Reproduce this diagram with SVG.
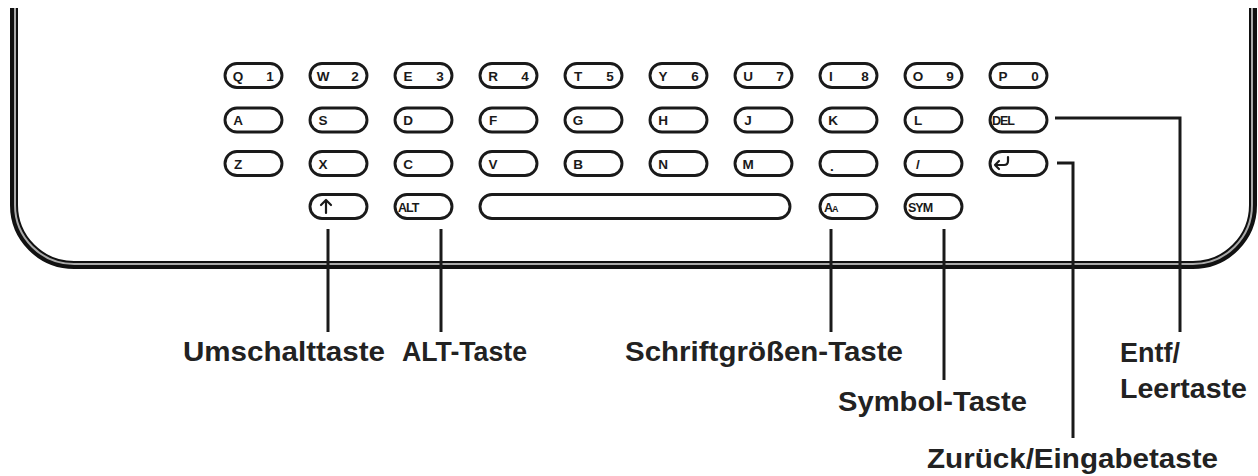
<svg xmlns="http://www.w3.org/2000/svg" width="1258" height="476" viewBox="0 0 1258 476">
<style>
.key{fill:#fff;stroke:#1a1a1a;stroke-width:2.9}
.kt{font-family:"Liberation Sans",Arial,sans-serif;font-weight:bold;font-size:13.5px;fill:#1a1a1a;text-anchor:middle}
.ks{font-family:"Liberation Sans",Arial,sans-serif;font-weight:bold;font-size:12.5px;fill:#1a1a1a;letter-spacing:-1px}
.icon{fill:none;stroke:#1a1a1a;stroke-width:2.2;stroke-linecap:round;stroke-linejoin:round}
.lbl{font-family:"Liberation Sans",Arial,sans-serif;font-weight:bold;font-size:28px;fill:#222}
.conn{fill:none;stroke:#1a1a1a;stroke-width:3;stroke-linejoin:miter}
</style>
<rect width="1258" height="476" fill="#fff"/>
<g id="frame">
<path d="M14,8 V205 A60,60 0 0 0 74,265 H1193 A60,60 0 0 0 1253,205 V8" fill="none" stroke="#111" stroke-width="8"/>
<path d="M15,8 V205 A59,59 0 0 0 74,264 H1193 A59,59 0 0 0 1252,205 V8" fill="none" stroke="#aaa" stroke-width="2"/>
</g>
<g id="row1">
<g id="key-q"><rect class="key" x="225" y="63.5" width="57" height="24" rx="12"/><text class="kt" x="238" y="80.5">Q</text><text class="kt" x="270" y="80.5">1</text></g>
<g id="key-w"><rect class="key" x="310" y="63.5" width="57" height="24" rx="12"/><text class="kt" x="323" y="80.5">W</text><text class="kt" x="355" y="80.5">2</text></g>
<g id="key-e"><rect class="key" x="395" y="63.5" width="57" height="24" rx="12"/><text class="kt" x="408" y="80.5">E</text><text class="kt" x="440" y="80.5">3</text></g>
<g id="key-r"><rect class="key" x="480" y="63.5" width="57" height="24" rx="12"/><text class="kt" x="493" y="80.5">R</text><text class="kt" x="525" y="80.5">4</text></g>
<g id="key-t"><rect class="key" x="565" y="63.5" width="57" height="24" rx="12"/><text class="kt" x="578" y="80.5">T</text><text class="kt" x="610" y="80.5">5</text></g>
<g id="key-y"><rect class="key" x="650" y="63.5" width="57" height="24" rx="12"/><text class="kt" x="663" y="80.5">Y</text><text class="kt" x="695" y="80.5">6</text></g>
<g id="key-u"><rect class="key" x="735" y="63.5" width="57" height="24" rx="12"/><text class="kt" x="748" y="80.5">U</text><text class="kt" x="780" y="80.5">7</text></g>
<g id="key-i"><rect class="key" x="820" y="63.5" width="57" height="24" rx="12"/><text class="kt" x="831" y="80.5">I</text><text class="kt" x="865" y="80.5">8</text></g>
<g id="key-o"><rect class="key" x="905" y="63.5" width="57" height="24" rx="12"/><text class="kt" x="918" y="80.5">O</text><text class="kt" x="950" y="80.5">9</text></g>
<g id="key-p"><rect class="key" x="990" y="63.5" width="57" height="24" rx="12"/><text class="kt" x="1003" y="80.5">P</text><text class="kt" x="1035" y="80.5">0</text></g>
</g>
<g id="row2">
<g id="key-a"><rect class="key" x="225" y="108" width="57" height="24" rx="12"/><text class="kt" x="238" y="125">A</text></g>
<g id="key-s"><rect class="key" x="310" y="108" width="57" height="24" rx="12"/><text class="kt" x="323" y="125">S</text></g>
<g id="key-d"><rect class="key" x="395" y="108" width="57" height="24" rx="12"/><text class="kt" x="408" y="125">D</text></g>
<g id="key-f"><rect class="key" x="480" y="108" width="57" height="24" rx="12"/><text class="kt" x="493" y="125">F</text></g>
<g id="key-g"><rect class="key" x="565" y="108" width="57" height="24" rx="12"/><text class="kt" x="578" y="125">G</text></g>
<g id="key-h"><rect class="key" x="650" y="108" width="57" height="24" rx="12"/><text class="kt" x="663" y="125">H</text></g>
<g id="key-j"><rect class="key" x="735" y="108" width="57" height="24" rx="12"/><text class="kt" x="748" y="125">J</text></g>
<g id="key-k"><rect class="key" x="820" y="108" width="57" height="24" rx="12"/><text class="kt" x="833" y="125">K</text></g>
<g id="key-l"><rect class="key" x="905" y="108" width="57" height="24" rx="12"/><text class="kt" x="918" y="125">L</text></g>
<g id="key-del"><rect class="key" x="990" y="108" width="57" height="24" rx="12"/><text class="ks" x="992" y="125">DEL</text></g>
</g>
<g id="row3">
<g id="key-z"><rect class="key" x="225" y="151.5" width="57" height="24" rx="12"/><text class="kt" x="238" y="168.5">Z</text></g>
<g id="key-x"><rect class="key" x="310" y="151.5" width="57" height="24" rx="12"/><text class="kt" x="323" y="168.5">X</text></g>
<g id="key-c"><rect class="key" x="395" y="151.5" width="57" height="24" rx="12"/><text class="kt" x="408" y="168.5">C</text></g>
<g id="key-v"><rect class="key" x="480" y="151.5" width="57" height="24" rx="12"/><text class="kt" x="493" y="168.5">V</text></g>
<g id="key-b"><rect class="key" x="565" y="151.5" width="57" height="24" rx="12"/><text class="kt" x="578" y="168.5">B</text></g>
<g id="key-n"><rect class="key" x="650" y="151.5" width="57" height="24" rx="12"/><text class="kt" x="663" y="168.5">N</text></g>
<g id="key-m"><rect class="key" x="735" y="151.5" width="57" height="24" rx="12"/><text class="kt" x="748" y="168.5">M</text></g>
<g id="key-dot"><rect class="key" x="820" y="151.5" width="57" height="24" rx="12"/><text class="kt" x="832" y="170.5">.</text></g>
<g id="key-slash"><rect class="key" x="905" y="151.5" width="57" height="24" rx="12"/><text class="kt" x="918" y="168.5">/</text></g>
<g id="key-enter"><rect class="key" x="990" y="151.5" width="57" height="24" rx="12"/><path class="icon" d="M1008,157 V161 Q1008,165 1004,165 H995 M999,161 L995,165 L999,169"/></g>
</g>
<g id="row4">
<g id="key-shift"><rect class="key" x="310" y="194.5" width="57" height="24" rx="12"/><path class="icon" d="M326,213 V200 M321,205 L326,200 L331,205"/></g>
<g id="key-alt"><rect class="key" x="395" y="194.5" width="57" height="24" rx="12"/><text class="ks" x="398" y="211.5">ALT</text></g>
<g id="key-space"><rect class="key" x="480" y="194.5" width="310" height="24" rx="12"/></g>
<g id="key-aa"><rect class="key" x="820" y="194.5" width="57" height="24" rx="12"/><text class="ks" x="824" y="211.5" letter-spacing="0">A<tspan font-size="9px">A</tspan></text></g>
<g id="key-sym"><rect class="key" x="905" y="194.5" width="57" height="24" rx="12"/><text class="ks" x="908" y="211.5">SYM</text></g>
</g>
<g id="connectors">
<path class="conn" d="M328,229 V332"/>
<path class="conn" d="M441,229 V332"/>
<path class="conn" d="M831,229 V332"/>
<path class="conn" d="M944,229 V380"/>
<path class="conn" d="M1057,163 H1073 V438"/>
<path class="conn" d="M1055,118 H1180 V332"/>
</g>
<g id="labels">
<text class="lbl" x="183" y="361" textLength="202" lengthAdjust="spacingAndGlyphs">Umschalttaste</text>
<text class="lbl" x="402" y="361" textLength="125" lengthAdjust="spacingAndGlyphs">ALT-Taste</text>
<text class="lbl" x="625" y="361" textLength="278" lengthAdjust="spacingAndGlyphs">Schriftgrößen-Taste</text>
<text class="lbl" x="838" y="411" textLength="189" lengthAdjust="spacingAndGlyphs">Symbol-Taste</text>
<text class="lbl" x="1120" y="362" textLength="60" lengthAdjust="spacingAndGlyphs">Entf/</text>
<text class="lbl" x="1120" y="398" textLength="127" lengthAdjust="spacingAndGlyphs">Leertaste</text>
<text class="lbl" x="927" y="468" textLength="291" lengthAdjust="spacingAndGlyphs">Zurück/Eingabetaste</text>
</g>
</svg>
